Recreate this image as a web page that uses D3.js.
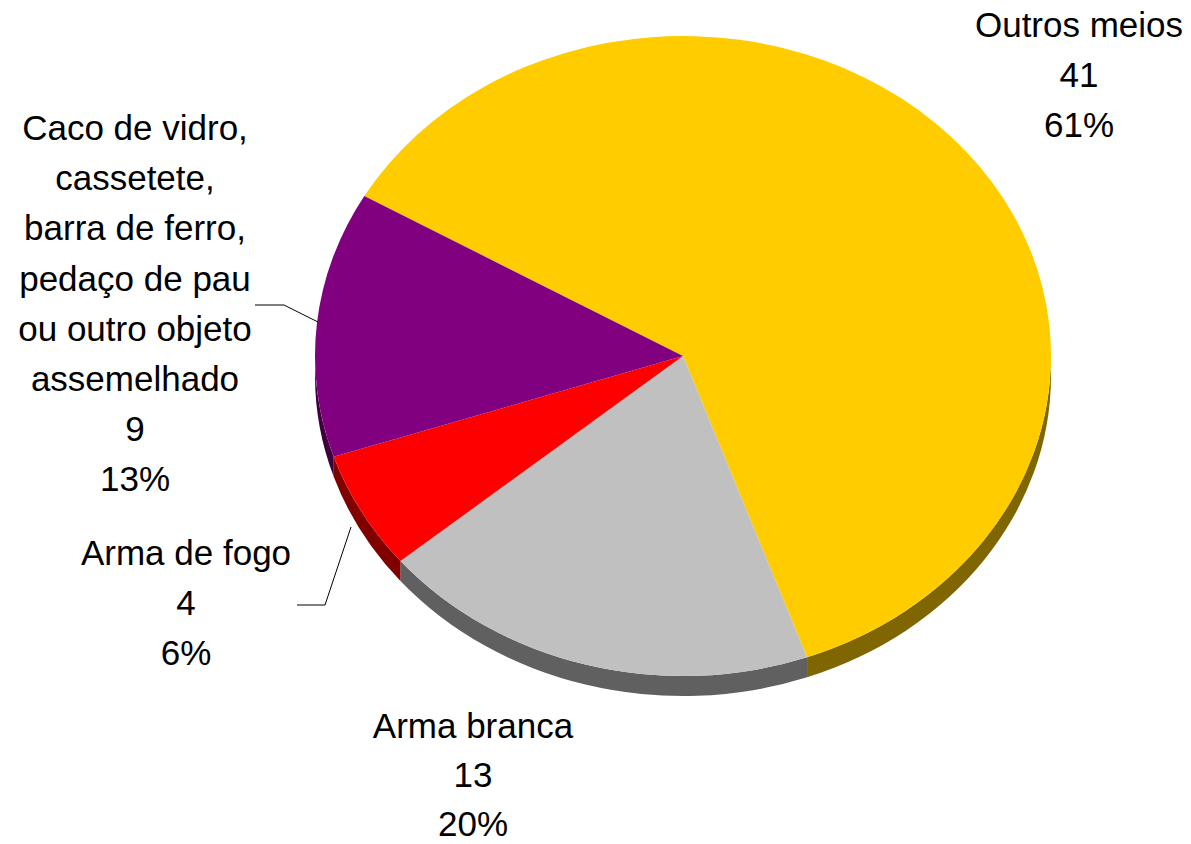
<!DOCTYPE html>
<html>
<head>
<meta charset="utf-8">
<script src="https://cdn.jsdelivr.net/npm/d3@7"></script>
<style>
  html, body { margin: 0; padding: 0; background: #ffffff; }
  svg { display: block; }
</style>
</head>
<body>
<svg id="chart" width="1191" height="844"></svg>
<script>
// ---- data (clockwise order starting at the top-left boundary) ----
const categories = ["Outros meios", "Arma branca", "Arma de fogo", "Caco de vidro, cassetete, barra de ferro, pedaço de pau ou outro objeto assemelhado"];
const values = [41, 13, 4, 9];
const percentLabels = ["61%", "20%", "6%", "13%"];
const labelLines = [
  ["Outros meios"],
  ["Arma branca"],
  ["Arma de fogo"],
  ["Caco de vidro,", "cassetete,", "barra de ferro,", "pedaço de pau", "ou outro objeto", "assemelhado"]
];
const topColors = ["#FFCC00", "#C0C0C0", "#FF0000", "#800080"];
const sideColors = ["#806600", "#606060", "#800000", "#400040"];

// ---- layout ----
const W = 1191, H = 844;
const cx = 683, cy = 356, rx = 368, ry = 320, depth = 20;
const svg = d3.select("#chart");

const start = -Math.PI / 3;
const pie = d3.pie().sort(null).value(d => d).startAngle(start).endAngle(start + 2 * Math.PI);
const arcs = pie(values);

const P = (a, dy = 0) => [cx + rx * Math.sin(a), cy - ry * Math.cos(a) + dy];

// side walls (front half only)
const vis0 = Math.PI / 2, vis1 = 3 * Math.PI / 2;
const sides = svg.append("g");
arcs.forEach((d, i) => {
  const b0 = Math.max(d.startAngle, vis0), b1 = Math.min(d.endAngle, vis1);
  if (b1 <= b0) return;
  const p0 = P(b0), p1 = P(b1), q1 = P(b1, depth), q0 = P(b0, depth);
  const path = `M${p0}A${rx},${ry} 0 0 1 ${p1}L${q1}A${rx},${ry} 0 0 0 ${q0}Z`;
  sides.append("path").attr("d", path).attr("fill", sideColors[i]);
});

// top surfaces
const tops = svg.append("g");
arcs.forEach((d, i) => {
  const p0 = P(d.startAngle), p1 = P(d.endAngle);
  const large = (d.endAngle - d.startAngle) > Math.PI ? 1 : 0;
  const path = `M${cx},${cy}L${p0}A${rx},${ry} 0 ${large} 1 ${p1}Z`;
  tops.append("path").attr("d", path).attr("fill", topColors[i]);
});

// labels
const labelPos = [
  { x: 1079, y: 37 },
  { x: 473, y: 738 },
  { x: 186, y: 565 },
  { x: 135, y: 140 }
];
const lh = 50.2;
const lg = svg.append("g")
  .attr("font-family", "'Liberation Sans', Arial, sans-serif")
  .attr("font-size", 35)
  .attr("fill", "#000")
  .attr("text-anchor", "middle");
arcs.forEach((d, i) => {
  const lines = labelLines[i].concat([String(values[i]), percentLabels[i]]);
  const step = i === 1 ? 49 : lh;
  lines.forEach((t, k) => {
    lg.append("text")
      .attr("x", labelPos[i].x)
      .attr("y", labelPos[i].y + k * step)
      .text(t);
  });
});

// leader lines
const leaders = [
  { slice: 3, pts: [[255, 305], [284, 305]] },
  { slice: 2, pts: [[297, 605], [325, 605]] }
];
const leaderTargets = [[318, 322], [351, 527]];
leaders.forEach((l, j) => {
  const pts = l.pts.concat([leaderTargets[j]]);
  svg.append("path")
    .attr("d", d3.line()(pts))
    .attr("fill", "none")
    .attr("stroke", "#000")
    .attr("stroke-width", 1);
});
</script>
</body>
</html>
